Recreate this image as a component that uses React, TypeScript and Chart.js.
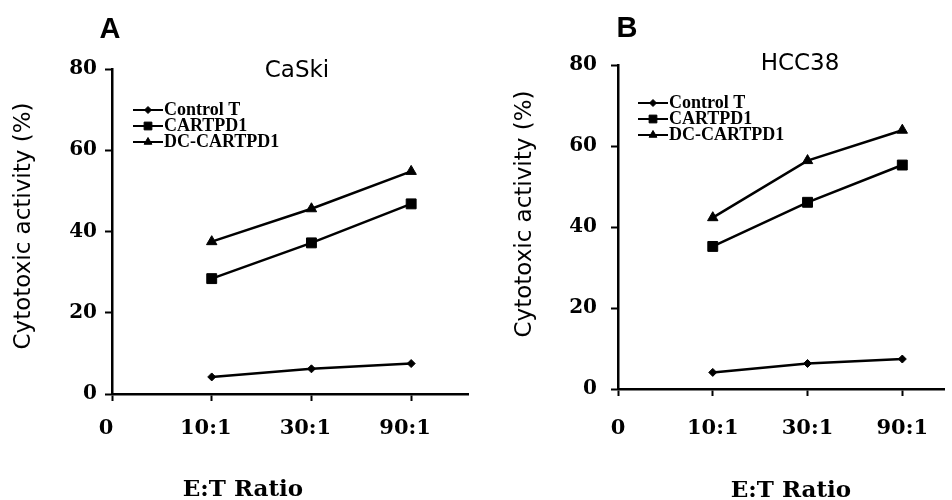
import { useEffect, useRef } from 'react';
import Chart, { ChartConfiguration, Plugin } from 'chart.js/auto';
import { drawPoint } from 'chart.js/helpers';

// E:T ratios on the x axis (index = position on the linear scale)
const ratios = ['0', '10:1', '30:1', '90:1'];
const yTicks = [0, 20, 40, 60, 80];
const seriesNames = ['Control T', 'CARTPD1', 'DC-CARTPD1'];

// CaSki, values at 10:1, 30:1, 90:1
const caskiControl = [4.2, 6.2, 7.5];
const caskiCart = [28.4, 37.2, 46.8];
const caskiDcCart = [37.5, 45.6, 54.8];

// HCC38
const hccControl = [4.1, 6.3, 7.4];
const hccCart = [35.2, 46.1, 55.3];
const hccDcCart = [42.3, 56.4, 63.9];

const markers = [
  { style: 'rectRot', radius: 4, legendRadius: 3.5 },
  { style: 'rect', radius: 7, legendRadius: 5.5 },
  { style: 'triangle', radius: 6, legendRadius: 4.5 },
];

const serifBold = '"DejaVu Serif", serif';

interface PanelSpec {
  letter: string;
  title: string;
  series: number[][];
  left: number;
  width: number;
  padding: { top: number; right: number; left: number; bottom: number };
  yWidth: number;
  xHeight: number;
  xMax: number;
  yPad: number;
  xPad: number;
  labelOffset: number;
  letterPos: { x: number; y: number };
  titlePos: { x: number; y: number };
  xTitlePos: { x: number; y: number };
  yTitlePos: { x: number; y: number };
  legendPos: { dx: number; dy: number };
}

const panels: PanelSpec[] = [
  {
    letter: 'A',
    title: 'CaSki',
    series: [caskiControl, caskiCart, caskiDcCart],
    left: 0,
    width: 476,
    padding: { top: 69, right: 3, left: 0, bottom: 0 },
    yWidth: 112,
    xHeight: 106,
    xMax: 3.57,
    yPad: 8,
    xPad: 15,
    labelOffset: -6,
    letterPos: { x: 110, y: 38 },
    titlePos: { x: 297, y: 77 },
    xTitlePos: { x: 243, y: 496 },
    yTitlePos: { x: 24, y: 226 },
    legendPos: { dx: 21, dy: 41 },
  },
  {
    letter: 'B',
    title: 'HCC38',
    series: [hccControl, hccCart, hccDcCart],
    left: 476,
    width: 476,
    padding: { top: 65, right: 0, left: 0, bottom: 0 },
    yWidth: 142,
    xHeight: 111,
    xMax: 3.44,
    yPad: 14,
    xPad: 20,
    labelOffset: 0,
    letterPos: { x: 151, y: 37 },
    titlePos: { x: 324, y: 70 },
    xTitlePos: { x: 315, y: 497 },
    yTitlePos: { x: 49, y: 214 },
    legendPos: { dx: 20, dy: 38 },
  },
];

// panel letter, cell line name, axis titles and the in-plot legend
function annotations(p: PanelSpec): Plugin<'line'> {
  return {
    id: 'annotations' + p.letter,
    afterDraw(chart) {
      const ctx = chart.ctx;
      const { left, top } = chart.chartArea;
      ctx.save();
      ctx.fillStyle = '#000';
      ctx.strokeStyle = '#000';

      ctx.textAlign = 'center';
      ctx.textBaseline = 'alphabetic';
      ctx.font = 'bold 29px "Liberation Sans", Arial, sans-serif';
      ctx.fillText(p.letter, p.letterPos.x, p.letterPos.y);

      ctx.font = '23px "DejaVu Sans", sans-serif';
      ctx.fillText(p.title, p.titlePos.x, p.titlePos.y);

      ctx.font = 'bold 23px ' + serifBold;
      ctx.fillText('E:T Ratio', p.xTitlePos.x, p.xTitlePos.y);

      ctx.save();
      ctx.translate(p.yTitlePos.x, p.yTitlePos.y);
      ctx.rotate(-Math.PI / 2);
      ctx.textBaseline = 'middle';
      ctx.font = '23px "DejaVu Sans", sans-serif';
      ctx.fillText('Cytotoxic activity (%)', 0, 0);
      ctx.restore();

      chart.data.datasets.forEach((ds, i) => {
        const y = top + p.legendPos.dy + i * 16;
        const x0 = left + p.legendPos.dx;
        ctx.lineWidth = 2;
        ctx.beginPath();
        ctx.moveTo(x0, y);
        ctx.lineTo(x0 + 30, y);
        ctx.stroke();
        ctx.lineWidth = 1;
        drawPoint(ctx, { pointStyle: markers[i].style as any, radius: markers[i].legendRadius, rotation: 0, borderWidth: 1 }, x0 + 15, y);
        ctx.font = 'bold 18px "Liberation Serif", serif';
        ctx.textAlign = 'left';
        ctx.textBaseline = 'middle';
        ctx.fillText(String(ds.label), x0 + 31, y);
      });
      ctx.restore();
    },
  };
}

function buildConfig(p: PanelSpec): ChartConfiguration<'line'> {
  return {
    type: 'line',
    data: {
      datasets: p.series.map((values, i) => ({
        label: seriesNames[i],
        data: values.map((v, j) => ({ x: j + 1, y: v })),
        borderColor: '#000',
        borderWidth: 2.5,
        backgroundColor: '#000',
        pointStyle: markers[i].style as any,
        pointRadius: markers[i].radius,
        pointBackgroundColor: '#000',
        pointBorderColor: '#000',
        pointBorderWidth: 1,
        tension: 0,
      })),
    },
    options: {
      animation: false,
      responsive: true,
      maintainAspectRatio: false,
      layout: { padding: p.padding },
      plugins: {
        legend: { display: false },
        tooltip: { enabled: false },
      },
      scales: {
        x: {
          type: 'linear',
          min: 0,
          max: p.xMax,
          border: { display: true, color: '#000', width: 2.5 },
          grid: { drawOnChartArea: false, drawTicks: true, tickLength: 7, tickColor: '#000', tickWidth: 2 },
          afterBuildTicks: (scale) => {
            scale.ticks = ratios.map((_, i) => ({ value: i }));
          },
          ticks: {
            autoSkip: false,
            maxRotation: 0,
            padding: p.xPad,
            labelOffset: p.labelOffset,
            color: '#000',
            font: { family: serifBold, weight: 'bold', size: 21 },
            callback: (v) => ratios[Number(v)] ?? '',
          },
          afterFit: (scale) => {
            scale.height = p.xHeight;
          },
        },
        y: {
          min: 0,
          max: 80,
          border: { display: true, color: '#000', width: 2.5 },
          grid: { drawOnChartArea: false, drawTicks: true, tickLength: 7, tickColor: '#000', tickWidth: 2 },
          afterBuildTicks: (scale) => {
            scale.ticks = yTicks.map((v) => ({ value: v }));
          },
          ticks: {
            padding: p.yPad,
            color: '#000',
            font: { family: serifBold, weight: 'bold', size: 20 },
          },
          afterFit: (scale) => {
            scale.width = p.yWidth;
          },
        },
      },
    },
    plugins: [annotations(p)],
  };
}

function Panel({ panel }: { panel: PanelSpec }) {
  const canvasRef = useRef<HTMLCanvasElement | null>(null);

  useEffect(() => {
    const ctx = canvasRef.current?.getContext('2d');
    if (!ctx) return;
    const chart = new Chart(ctx, buildConfig(panel));
    return () => chart.destroy();
  }, [panel]);

  return (
    <div style={{ position: 'absolute', left: panel.left, top: 0, width: panel.width, height: 500 }}>
      <canvas ref={canvasRef}></canvas>
    </div>
  );
}

export default function App() {
  return (
    <div style={{ position: 'absolute', left: 0, top: 0, width: 952, height: 500, overflow: 'hidden', background: '#fff' }}>
      {panels.map((p) => (
        <Panel key={p.letter} panel={p} />
      ))}
    </div>
  );
}
